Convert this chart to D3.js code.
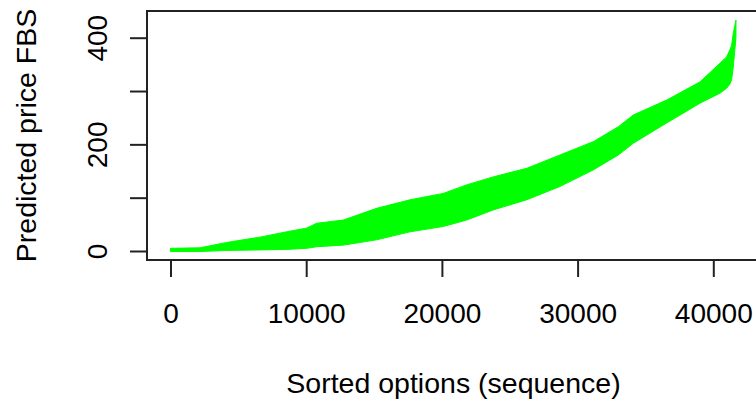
<!DOCTYPE html>
<html>
<head>
<meta charset="utf-8">
<script src="https://cdn.jsdelivr.net/npm/d3@7"></script>
<style>
  html, body { margin: 0; padding: 0; background: #fff; }
  svg { display: block; font-family: "Liberation Sans", Arial, sans-serif; }
</style>
</head>
<body>
<div id="chart"></div>
<script>
const seqIndex = [0, 2170, 4140, 6590, 8560, 10040, 10770, 12730, 15190, 17650,
  20100, 21820, 23780, 26250, 28700, 31150, 33000, 34100, 36560, 39010,
  40490, 40980, 41220, 41350, 41470, 41670];
// upper edge of the predicted price band
const upperPrice = [5, 6, 16, 26, 36, 43, 52, 58, 80, 96,
  108, 124, 139, 155, 180, 205, 233, 255, 283, 317,
  352, 364, 377, 386, 408, 433];
// lower edge of the predicted price band
const lowerPrice = [-1, -1, 1, 2, 3, 5, 8, 11, 21, 36,
  46, 58, 77, 96, 121, 152, 180, 202, 240, 277,
  296, 305, 313, 321, 345, 400];

const xTicks = [0, 10000, 20000, 30000, 40000];
const yTicks = [0, 100, 200, 300, 400];
const yTickLabels = [0, 200, 400];

const width = 756;
const height = 403;
const tickFont = 28;
const titleFont = 28.5;

// plot box (right side runs past the picture edge)
const boxLeft = 147, boxTop = 11, boxRight = 760, boxBottom = 260;
const tickLen = 17;

const x = d3.scaleLinear()
    .domain([0, 40000])
    .range([170.5, 713.3]);

const y = d3.scaleLinear()
    .domain([0, 400])
    .range([251, 37.7]);

const svg = d3.select("#chart").append("svg")
    .attr("width", width)
    .attr("height", height)
    .attr("viewBox", `0 0 ${width} ${height}`);

// band of predicted prices
const band = seqIndex.map((s, i) => ({s, hi: upperPrice[i], lo: lowerPrice[i]}));
const area = d3.area()
    .x(d => x(d.s))
    .y0(d => y(d.lo))
    .y1(d => y(d.hi));

svg.append("path")
    .datum(band)
    .attr("d", area)
    .attr("fill", "#00ff00")
    .attr("stroke", "#00ff00")
    .attr("stroke-width", 1);

// frame
svg.append("rect")
    .attr("x", boxLeft)
    .attr("y", boxTop)
    .attr("width", boxRight - boxLeft)
    .attr("height", boxBottom - boxTop)
    .attr("fill", "none")
    .attr("stroke", "#222")
    .attr("stroke-width", 2);

// x axis
svg.append("g")
    .attr("transform", `translate(0,${boxBottom})`)
    .call(d3.axisBottom(x).tickValues(xTicks).tickSize(tickLen).tickFormat(d3.format("d")))
    .call(g => g.select(".domain").remove())
    .call(g => g.selectAll(".tick line").attr("stroke", "#222").attr("stroke-width", 2))
    .call(g => g.selectAll(".tick text")
        .attr("y", 323 - boxBottom)
        .attr("dy", null)
        .attr("fill", "#000")
        .style("font-size", tickFont + "px")
        .style("font-family", "'Liberation Sans', Arial, sans-serif"));

// y axis, labels rotated like R's default
svg.append("g")
    .attr("transform", `translate(${boxLeft},0)`)
    .call(d3.axisLeft(y).tickValues(yTicks).tickSize(tickLen)
        .tickFormat(d => yTickLabels.includes(d) ? d : ""))
    .call(g => g.select(".domain").remove())
    .call(g => g.selectAll(".tick line").attr("stroke", "#222").attr("stroke-width", 2))
    .call(g => g.selectAll(".tick text")
        .attr("x", null)
        .attr("dy", null)
        .attr("text-anchor", "middle")
        .attr("transform", `translate(${107 - boxLeft},0) rotate(-90)`)
        .attr("fill", "#000")
        .style("font-size", tickFont + "px")
        .style("font-family", "'Liberation Sans', Arial, sans-serif"));

// axis titles
svg.append("text")
    .attr("x", (boxLeft + boxRight) / 2)
    .attr("y", 393)
    .attr("text-anchor", "middle")
    .style("font-size", titleFont + "px")
    .text("Sorted options (sequence)");

svg.append("text")
    .attr("transform", `translate(36,${(boxTop + boxBottom) / 2}) rotate(-90)`)
    .attr("text-anchor", "middle")
    .style("font-size", titleFont + "px")
    .text("Predicted price FBS");
</script>
</body>
</html>
